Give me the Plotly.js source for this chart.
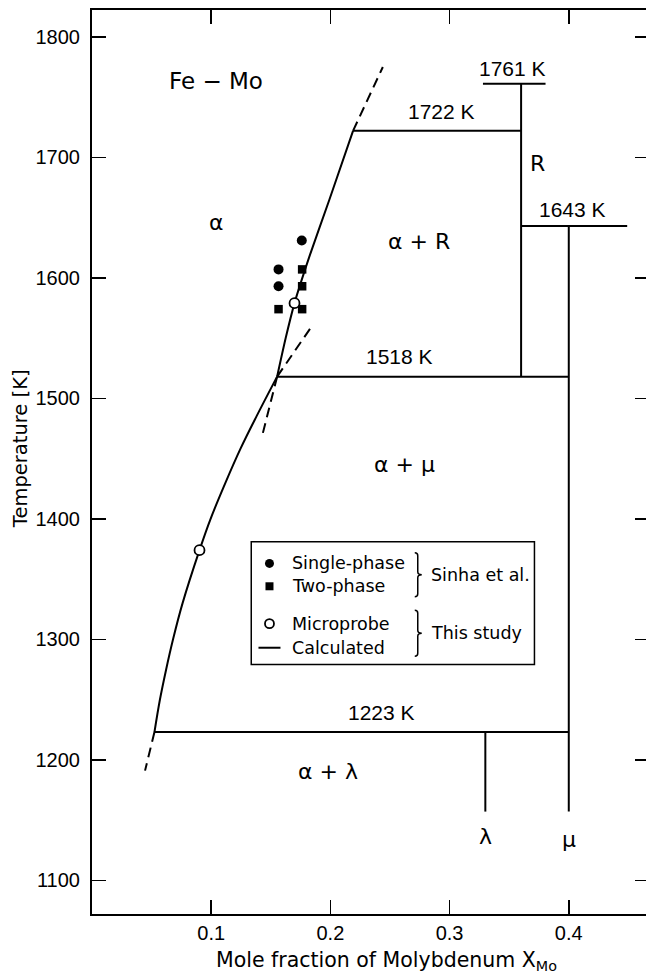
<!DOCTYPE html>
<html>
<head>
<meta charset="utf-8">
<script src="https://cdn.plot.ly/plotly-3.0.1.min.js"></script>
<style>html,body{margin:0;padding:0;overflow:hidden;background:#fff}</style>
</head>
<body>
<div id="chart" style="width:652px;height:976px"></div>
<script>
// ---------- data ----------
// calculated alpha boundary below 1518 K
const lowerX = [0.0524, 0.0570, 0.0622, 0.0680, 0.0760, 0.0902, 0.0995, 0.1120, 0.1245, 0.1380, 0.1553];
const lowerT = [1223, 1250, 1275, 1300, 1330, 1374, 1400, 1430, 1458, 1485, 1518];
// calculated alpha boundary above 1518 K
const upperX = [0.1553, 0.1625, 0.1699, 0.1825, 0.1992, 0.2190];
const upperT = [1518, 1550, 1579, 1618, 1665, 1722];
// metastable (dashed) extensions
const dashX0 = [0.2190, 0.0524, 0.1553, 0.1553];
const dashT0 = [1722, 1223, 1518, 1518];
const dashX1 = [0.2440, 0.0445, 0.1852, 0.1433];
const dashT1 = [1775, 1191, 1561, 1471];
// invariant (horizontal) lines
const tieT  = [1223, 1518, 1643, 1722, 1761];
const tieX0 = [0.0524, 0.1553, 0.360, 0.2190, 0.328];
const tieX1 = [0.400, 0.400, 0.449, 0.360, 0.3805];
const tieLabels = ['1223 K', '1518 K', '1643 K', '1722 K', '1761 K'];
// vertical phase lines (R, mu, lambda)
const vertX  = [0.360, 0.400, 0.330];
const vertT0 = [1518, 1157, 1157];
const vertT1 = [1761, 1643, 1223];
// Sinha et al. experimental points
const singleX = [0.1760, 0.1565, 0.1565];
const singleT = [1631, 1607, 1593];
const twoX = [0.1763, 0.1763, 0.1565, 0.1763];
const twoT = [1607, 1593, 1574, 1574];
// this study microprobe
const microX = [0.0902, 0.1699];
const microT = [1374, 1579];
// axis ticks
const xTicks = [0.1, 0.2, 0.3, 0.4];
const xTickText = ['0.1', '0.2', '0.3', '0.4'];
const yTicks = [1100, 1200, 1300, 1400, 1500, 1600, 1700, 1800];

// ---------- build traces ----------
function segs(x0, y0, x1, y1) {
  const xs = [], ys = [];
  for (let i = 0; i < x0.length; i++) { xs.push(x0[i], x1[i], null); ys.push(y0[i], y1[i], null); }
  return {xs, ys};
}
const black = '#000';
const traces = [];
traces.push({x: lowerX, y: lowerT, mode: 'lines', line: {color: black, width: 2, shape: 'spline', smoothing: 1}, hoverinfo: 'skip'});
traces.push({x: upperX, y: upperT, mode: 'lines', line: {color: black, width: 2, shape: 'spline', smoothing: 0.6}, hoverinfo: 'skip'});
const d = segs(dashX0, dashT0, dashX1, dashT1);
traces.push({x: d.xs, y: d.ys, mode: 'lines', line: {color: black, width: 2, dash: '10px,6px'}, hoverinfo: 'skip'});
const t = segs(tieX0, tieT, tieX1, tieT);
traces.push({x: t.xs, y: t.ys, mode: 'lines', line: {color: black, width: 2}, hoverinfo: 'skip'});
const v = segs(vertX, vertT0, vertX, vertT1);
traces.push({x: v.xs, y: v.ys, mode: 'lines', line: {color: black, width: 2}, hoverinfo: 'skip'});
traces.push({x: singleX, y: singleT, mode: 'markers', marker: {symbol: 'circle', size: 10, color: black}});
traces.push({x: twoX, y: twoT, mode: 'markers', marker: {symbol: 'square', size: 8.5, color: black}});
traces.push({x: microX, y: microT, mode: 'markers', marker: {symbol: 'circle', size: 10, color: '#fff', line: {color: black, width: 1.8}}});

// ---------- annotations ----------
const txtFont = 'DejaVu Sans, sans-serif';
const numFont = 'Liberation Sans, Arial, sans-serif';
const ann = [];
function lab(x, y, text, size, family, extra) {
  ann.push(Object.assign({x, y, xref: 'x', yref: 'y', text, showarrow: false,
    font: {family: family || txtFont, size, color: black}, xanchor: 'center', yanchor: 'middle'}, extra || {}));
}
lab(0.1042, 1763, 'Fe \u2212 Mo', 23);
lab(0.1042, 1646, '\u03b1', 22);
lab(0.2747, 1630, '\u03b1 + R', 22);
lab(0.374, 1695, 'R', 22);
lab(0.2622, 1445, '\u03b1 + \u03bc', 22);
lab(0.1978, 1190, '\u03b1 + \u03bb', 22);
lab(0.3299, 1136, '\u03bb', 22);
lab(0.400, 1134, '\u03bc', 22);
// tie-line temperature labels
const tieLabX = [0.2426, 0.2576, 0.4034, 0.293, 0.3525];
const tieLabT = [1239, 1535, 1657, 1738, 1774];
for (let i = 0; i < tieLabels.length; i++) lab(tieLabX[i], tieLabT[i], tieLabels[i], 21, numFont);

// legend
const legX0 = 0.1336, legX1 = 0.3712, legT0 = 1279, legT1 = 1381;
const legSymX = 0.1489, legTxtX = 0.1661, braceX = 0.2733, braceTxtX = 0.2831;
const legRows = [1363, 1344, 1313, 1293];
const legTexts = ['Single-phase', 'Two-phase', 'Microprobe', 'Calculated'];
for (let i = 0; i < 4; i++) lab(legTxtX, legRows[i], legTexts[i], 17.5, txtFont, {xanchor: 'left'});
lab(braceTxtX, 1353.5, 'Sinha et al.', 17.5, txtFont, {xanchor: 'left'});
lab(braceTxtX, 1305, 'This study', 17.5, txtFont, {xanchor: 'left'});

// axis titles
ann.push({x: -0.127, y: 1458, xref: 'paper', yref: 'y', text: 'Temperature [K]', textangle: -90, showarrow: false,
  font: {family: txtFont, size: 19.5, color: black}, xanchor: 'center', yanchor: 'middle'});
ann.push({x: 0.2471, y: -0.052, xref: 'x', yref: 'paper', text: 'Mole fraction of Molybdenum X<sub>Mo</sub>', showarrow: false,
  font: {family: txtFont, size: 20.5, color: black}, xanchor: 'center', yanchor: 'middle'});

// ---------- shapes ----------
const shapes = [
  {type: 'rect', xref: 'x', yref: 'y', x0: legX0, x1: legX1, y0: legT0, y1: legT1, line: {color: black, width: 1.5}, fillcolor: 'rgba(0,0,0,0)'},
  {type: 'circle', xref: 'x', yref: 'y', xsizemode: 'pixel', ysizemode: 'pixel', xanchor: legSymX, yanchor: legRows[0], x0: -4.5, x1: 4.5, y0: -4.5, y1: 4.5, fillcolor: black, line: {width: 0}},
  {type: 'rect', xref: 'x', yref: 'y', xsizemode: 'pixel', ysizemode: 'pixel', xanchor: legSymX, yanchor: legRows[1], x0: -4, x1: 4, y0: -4, y1: 4, fillcolor: black, line: {width: 0}},
  {type: 'circle', xref: 'x', yref: 'y', xsizemode: 'pixel', ysizemode: 'pixel', xanchor: legSymX, yanchor: legRows[2], x0: -4.5, x1: 4.5, y0: -4.5, y1: 4.5, fillcolor: '#fff', line: {color: black, width: 1.8}},
  {type: 'line', xref: 'x', yref: 'y', xsizemode: 'pixel', xanchor: legSymX, x0: -11, x1: 11, y0: legRows[3], y1: legRows[3], line: {color: black, width: 2}},
  {type: 'path', xref: 'x', yref: 'y', xsizemode: 'pixel', ysizemode: 'pixel', xanchor: braceX, yanchor: 1353.5, path: 'M-3,22 Q0,22 0,19 L0,3 Q0,0 4,0 Q0,0 0,-3 L0,-19 Q0,-22 -3,-22', line: {color: black, width: 1.5}},
  {type: 'path', xref: 'x', yref: 'y', xsizemode: 'pixel', ysizemode: 'pixel', xanchor: braceX, yanchor: 1305, path: 'M-3,23 Q0,23 0,20 L0,3 Q0,0 4,0 Q0,0 0,-3 L0,-20 Q0,-23 -3,-23', line: {color: black, width: 1.5}}
];

const axisCommon = {ticks: 'inside', ticklen: 14, tickwidth: 1.5, tickcolor: black, showline: true, linewidth: 2, linecolor: black,
  mirror: 'ticks', showgrid: false, zeroline: false, tickfont: {family: numFont, size: 20, color: black}};
const layout = {
  width: 652, height: 976,
  margin: {l: 92, r: 3, t: 10, b: 62},
  paper_bgcolor: '#fff', plot_bgcolor: '#fff',
  showlegend: false,
  xaxis: Object.assign({}, axisCommon, {range: [0, 0.4673], tickmode: 'array', tickvals: xTicks, ticktext: xTickText}),
  yaxis: Object.assign({}, axisCommon, {range: [1072, 1822.3], tickmode: 'array', tickvals: yTicks, ticklabelstandoff: 6}),
  annotations: ann,
  shapes: shapes
};
Plotly.newPlot('chart', traces, layout, {staticPlot: true});
</script>
</body>
</html>
